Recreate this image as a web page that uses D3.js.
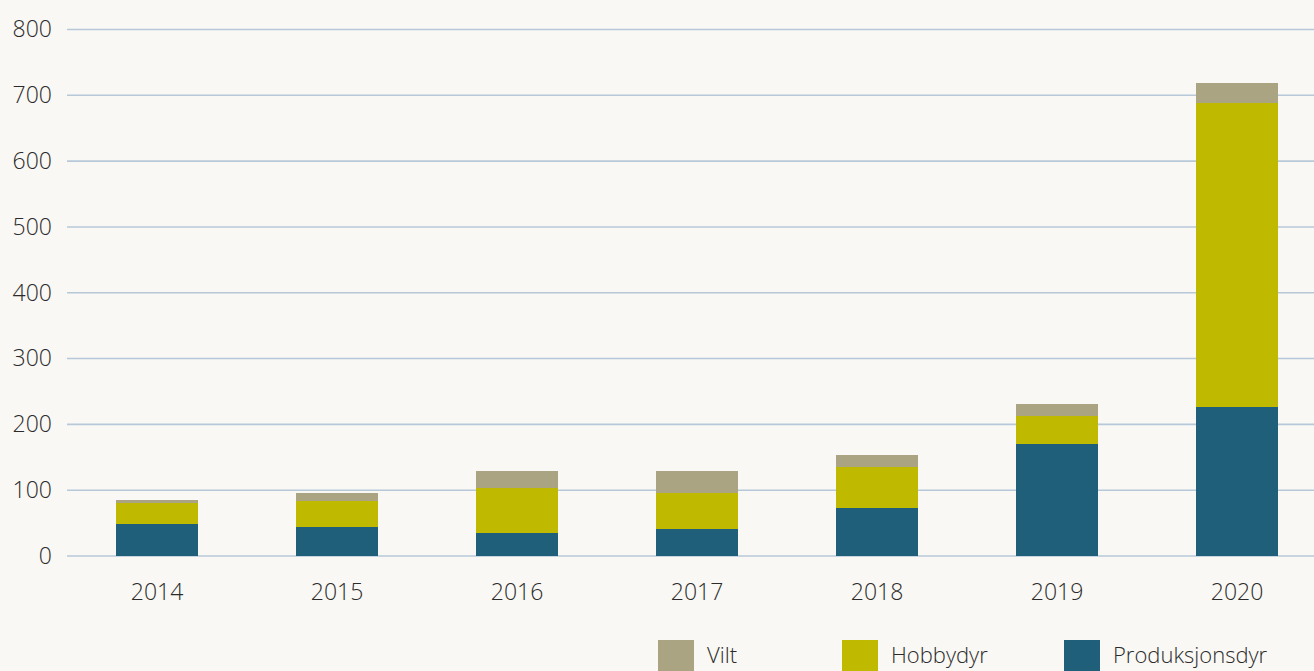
<!DOCTYPE html>
<html>
<head>
<meta charset="utf-8">
<script src="https://cdn.jsdelivr.net/npm/d3@7"></script>
<style>
  body { margin: 0; background: #f9f8f4; }
  svg { display: block; }
  svg text { font-family: 'Open Sans', sans-serif; font-weight: 300; fill: #2b2b2b; }
</style>
</head>
<body>
<div id="chart"></div>
<script>
const years = ['2014', '2015', '2016', '2017', '2018', '2019', '2020'];
const produksjonsdyr = [49, 44, 35, 41, 73, 170, 226];
const hobbydyr = [32, 39, 68, 54, 62, 43, 463];
const vilt = [4, 12, 26, 34, 18, 18, 29];
const yTicks = [0, 100, 200, 300, 400, 500, 600, 700, 800];

const seriesNames = ['Produksjonsdyr', 'Hobbydyr', 'Vilt'];
const colors = {Produksjonsdyr: '#1f5f7a', Hobbydyr: '#bfba00', Vilt: '#aba482'};

const width = 1314;
const height = 671;

// table for the stack layout
const rows = years.map((y, i) => ({
  year: y,
  Produksjonsdyr: produksjonsdyr[i],
  Hobbydyr: hobbydyr[i],
  Vilt: vilt[i]
}));

const x = d3.scaleBand()
  .domain(years)
  .range([67, 1327])
  .paddingInner(0.545)
  .paddingOuter(0.2725);

const y = d3.scaleLinear()
  .domain([0, 800])
  .range([556, 29.5]);

const svg = d3.select('#chart')
  .append('svg')
  .attr('width', width)
  .attr('height', height);

// grid lines
svg.append('g')
  .selectAll('line')
  .data(yTicks)
  .enter().append('line')
    .attr('x1', 67)
    .attr('x2', width)
    .attr('y1', d => y(d))
    .attr('y2', d => y(d))
    .style('stroke', '#b7c8d9')
    .style('stroke-width', 1.6);

// y axis labels
const yAxis = svg.append('g')
  .attr('transform', 'translate(52,0)')
  .call(d3.axisLeft(y).tickValues(yTicks).tickSize(0).tickPadding(0));
yAxis.attr('font-family', null);
yAxis.select('.domain').remove();
yAxis.selectAll('text').style('font-size', '23px');

const stacked = d3.stack().keys(seriesNames)(rows);

svg.append('g')
  .attr('shape-rendering', 'crispEdges')
  .selectAll('g')
  .data(stacked)
  .enter().append('g')
    .attr('fill', d => colors[d.key])
  .selectAll('rect')
  .data(d => d)
  .enter().append('rect')
    .attr('x', d => x(d.data.year))
    .attr('y', d => y(d[1]))
    .attr('width', x.bandwidth())
    .attr('height', d => y(d[0]) - y(d[1]));

// x axis labels
const xAxis = svg.append('g')
  .attr('transform', 'translate(0,556)')
  .call(d3.axisBottom(x).tickSize(0).tickPadding(28));
xAxis.attr('font-family', null);
xAxis.select('.domain').remove();
xAxis.selectAll('text').style('font-size', '23px');

// legend
const legendItems = [
  {name: 'Vilt', x: 658},
  {name: 'Hobbydyr', x: 842},
  {name: 'Produksjonsdyr', x: 1064}
];

const legend = svg.append('g')
  .selectAll('g')
  .data(legendItems)
  .enter().append('g')
    .attr('transform', d => `translate(${d.x},640)`);

legend.append('rect')
  .attr('width', 36)
  .attr('height', 32)
  .attr('fill', d => colors[d.name]);

legend.append('text')
  .attr('x', 49)
  .attr('y', 23)
  .style('font-size', '22px')
  .text(d => d.name);
</script>
</body>
</html>
